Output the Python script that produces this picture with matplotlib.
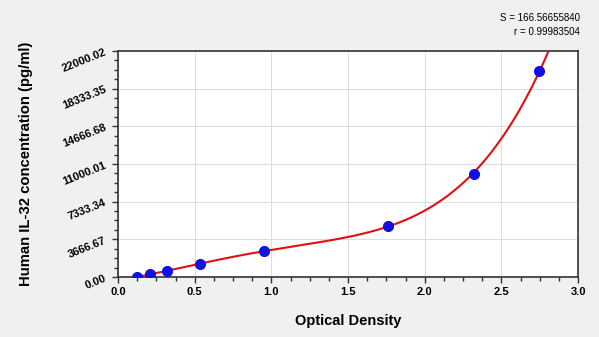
import numpy as np
import matplotlib.pyplot as plt
from matplotlib.ticker import FixedLocator

od = [0.124, 0.209, 0.320, 0.536, 0.954, 1.758, 2.320, 2.745]
conc = [0, 312.5, 625, 1250, 2500, 5000, 10000, 20000]
x_ticks = [0.0, 0.5, 1.0, 1.5, 2.0, 2.5, 3.0]
x_labels = ["0.0", "0.5", "1.0", "1.5", "2.0", "2.5", "3.0"]
y_ticks = [0.00, 3666.67, 7333.34, 11000.01, 14666.68, 18333.35, 22000.02]
y_labels = ["0.00", "3666.67", "7333.34", "11000.01", "14666.68", "18333.35", "22000.02"]

plt.rcParams['font.family'] = ['Liberation Sans', 'DejaVu Sans']

fig = plt.figure(figsize=(5.99, 3.37), dpi=100, facecolor="#f0f0f0")
ax = fig.add_axes([0.197, 0.178, 0.768, 0.671])
ax.set_facecolor("white")

# fitted standard curve
w = 1.0 / np.sqrt(np.array(conc) + 300)
coef = np.polyfit(od, conc, 4, w=w)
xs = np.linspace(0.085, 2.85, 300)
ax.plot(xs, np.polyval(coef, xs), color="#e01010", linewidth=1.5, zorder=3)
ax.plot(od, conc, "o", color="#1010e0", markersize=7, zorder=4)

ax.set_xlim(0, 3.0)
ax.set_ylim(0, 22000.02)
ax.xaxis.set_major_locator(FixedLocator(x_ticks))
ax.xaxis.set_minor_locator(FixedLocator(np.arange(0, 3.01, 0.125)))
ax.yaxis.set_major_locator(FixedLocator(y_ticks))
ax.yaxis.set_minor_locator(FixedLocator(np.arange(0, 22000.03, 3666.67 / 4)))
ax.set_xticklabels(x_labels, fontsize=8, fontweight="bold")
ax.set_yticklabels(y_labels, rotation=22, fontsize=8, fontweight="bold")

ax.tick_params(which="major", length=4, width=1, color="#333333")
ax.tick_params(which="minor", length=3, width=1, color="#333333")
ax.grid(True, which="major", color="#dcdcdc", linewidth=0.7)
for s in ax.spines.values():
    s.set_color("#333333")
    s.set_linewidth(1.2)

ax.set_xlabel("Optical Density", fontsize=10.5, fontweight="bold", labelpad=12)
ax.set_ylabel("Human IL-32 concentration (pg/ml)", fontsize=10.7, fontweight="bold", labelpad=20)

fig.text(0.968, 0.946, "S = 166.56655840", ha="right", va="center", fontsize=7)
fig.text(0.968, 0.905, "r = 0.99983504", ha="right", va="center", fontsize=7)

fig.savefig("out.png", dpi=100, facecolor=fig.get_facecolor())
